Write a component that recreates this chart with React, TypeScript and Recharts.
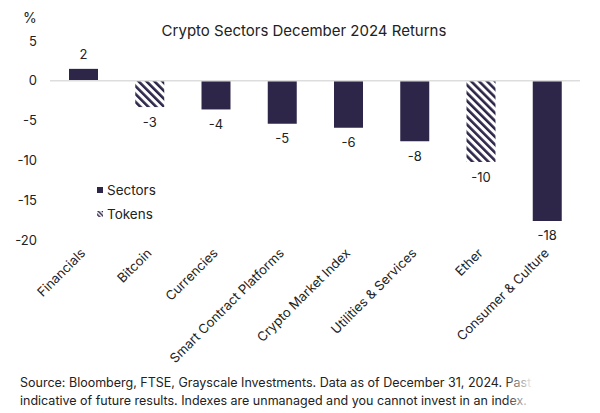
import React from 'react';
import { BarChart, Bar, XAxis, YAxis, ReferenceLine, Cell, LabelList } from 'recharts';

const categories = [
  'Financials',
  'Bitcoin',
  'Currencies',
  'Smart Contract Platforms',
  'Crypto Market Index',
  'Utilities & Services',
  'Ether',
  'Consumer & Culture',
];
const returns = [1.5, -3.3, -3.6, -5.4, -5.9, -7.6, -10.2, -17.6];
const kinds = ['Sectors', 'Tokens', 'Sectors', 'Sectors', 'Sectors', 'Sectors', 'Tokens', 'Sectors'];
const yTicks = [-20, -15, -10, -5, 0, 5];
const legendItems = ['Sectors', 'Tokens'];

const data = categories.map((name, i) => ({ name, value: returns[i], kind: kinds[i] }));

const DARK = '#2e2649';
const FONT = 'Inter, "Noto Sans", sans-serif';

const XTick = (props: any) => {
  const { x, y, payload } = props;
  return (
    <g transform={`translate(${x + 3},${y + 14}) rotate(-45)`}>
      <text x={0} y={0} textAnchor="end" fontSize={13} fill="#222" fontFamily={FONT}>
        {payload.value}
      </text>
    </g>
  );
};

const ValueLabel = (props: any) => {
  const { x, y, width, height, value } = props;
  const top = Math.min(y, y + height);
  const bottom = Math.max(y, y + height);
  const cx = x + width / 2;
  const ty = value >= 0 ? top - 14 : bottom + 15;
  return (
    <text x={cx} y={ty} dy="0.35em" textAnchor="middle" fontSize={13} fill="#222" fontFamily={FONT}>
      {Math.round(value)}
    </text>
  );
};

const LegendIcon = ({ kind }: { kind: string }) => (
  <svg width={8} height={8} style={{ marginRight: 3 }}>
    {kind === 'Sectors' ? (
      <rect x={1} y={1} width={6} height={6} fill={DARK} />
    ) : (
      <rect x={1} y={1} width={6} height={6} fill="url(#hatchLegend)" />
    )}
  </svg>
);

export default function App() {
  return (
    <div
      style={{
        position: 'absolute',
        left: 0,
        top: 0,
        width: 600,
        height: 413,
        background: '#fff',
        overflow: 'hidden',
        fontFamily: FONT,
      }}
    >
      <svg width={0} height={0} style={{ position: 'absolute' }}>
        <defs>
          <pattern id="hatchLegend" patternUnits="userSpaceOnUse" width={3} height={3} patternTransform="rotate(-45)">
            <rect x={0} y={0} width={1.5} height={3} fill={DARK} />
          </pattern>
        </defs>
      </svg>
      <div
        style={{
          position: 'absolute',
          left: 0,
          width: 608,
          top: 21,
          textAlign: 'center',
          fontSize: 15,
          color: '#222',
        }}
      >
        Crypto Sectors December 2024 Returns
      </div>
      <div style={{ position: 'absolute', left: 23, top: 9, fontSize: 14, color: '#222' }}>%</div>
      <BarChart width={600} height={413} data={data} margin={{ top: 41, right: 20, left: 0, bottom: 0 }}>
        <defs>
          <pattern id="hatch" patternUnits="userSpaceOnUse" width={5.6} height={5.6} patternTransform="rotate(-45)">
            <rect x={0} y={0} width={2.6} height={5.6} fill={DARK} />
          </pattern>
        </defs>
        <XAxis
          dataKey="name"
          interval={0}
          axisLine={false}
          tickLine={false}
          tickSize={0}
          tickMargin={0}
          height={173}
          tick={<XTick />}
        />
        <YAxis
          width={50}
          domain={[-20, 5]}
          ticks={yTicks}
          axisLine={false}
          tickLine={false}
          tickSize={0}
          tickMargin={13}
          tick={{ fontSize: 13, fill: '#222', fontFamily: FONT }}
        />
        <ReferenceLine y={0} stroke="#dddddd" strokeWidth={1.5} />
        <Bar dataKey="value" barSize={29} isAnimationActive={false}>
          {data.map((d, i) => (
            <Cell key={i} fill={d.kind === 'Tokens' ? 'url(#hatch)' : DARK} />
          ))}
          <LabelList dataKey="value" content={<ValueLabel />} />
        </Bar>
      </BarChart>
      <div style={{ position: 'absolute', left: 96, top: 178, fontSize: 13.5, color: '#222', lineHeight: '24px' }}>
        {legendItems.map((k) => (
          <div key={k} style={{ display: 'flex', alignItems: 'center' }}>
            <LegendIcon kind={k} />
            <span>{k}</span>
          </div>
        ))}
      </div>
      <div
        style={{
          position: 'absolute',
          left: 20,
          top: 374,
          fontSize: 12.5,
          lineHeight: '18px',
          color: '#222',
          whiteSpace: 'nowrap',
        }}
      >
        <div>Source: Bloomberg, FTSE, Grayscale Investments. Data as of December 31, 2024. Past</div>
        <div>indicative of future results. Indexes are unmanaged and you cannot invest in an index.</div>
      </div>
      <div
        style={{
          position: 'absolute',
          left: 505,
          top: 372,
          width: 95,
          height: 41,
          background: 'linear-gradient(to right, rgba(255,255,255,0), #fff 30%)',
        }}
      />
    </div>
  );
}
